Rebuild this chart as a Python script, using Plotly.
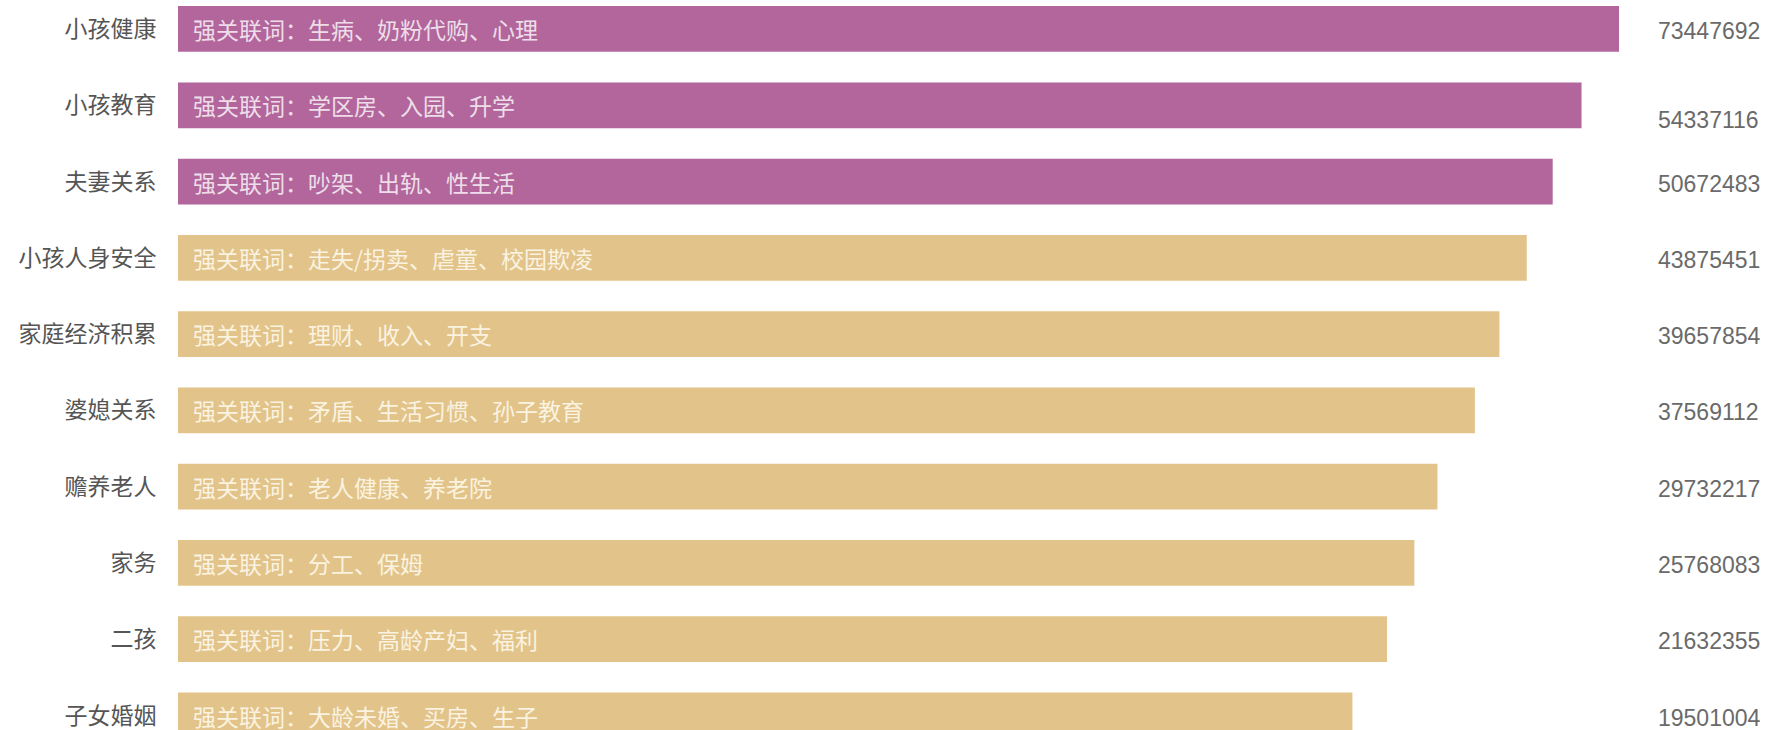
import plotly.graph_objects as go

# ---- data ----
categories = ["小孩健康", "小孩教育", "夫妻关系", "小孩人身安全", "家庭经济积累",
              "婆媳关系", "赡养老人", "家务", "二孩", "子女婚姻"]
keywords = ["强关联词：生病、奶粉代购、心理",
            "强关联词：学区房、入园、升学",
            "强关联词：吵架、出轨、性生活",
            "强关联词：走失/拐卖、虐童、校园欺凌",
            "强关联词：理财、收入、开支",
            "强关联词：矛盾、生活习惯、孙子教育",
            "强关联词：老人健康、养老院",
            "强关联词：分工、保姆",
            "强关联词：压力、高龄产妇、福利",
            "强关联词：大龄未婚、买房、生子"]
values = [73447692, 54337116, 50672483, 43875451, 39657854,
          37569112, 29732217, 25768083, 21632355, 19501004]
# relative displayed bar length (longest bar = 100)
bar_len = [100, 97.4, 95.4, 93.6, 91.7, 90.0, 87.4, 85.8, 83.9, 81.5]

PURPLE = "#B2669C"
TAN = "#E2C48A"
colors = [PURPLE if i < 3 else TAN for i in range(len(categories))]

fig = go.Figure()
fig.add_trace(go.Bar(
    x=bar_len, y=categories, orientation="h",
    marker=dict(color=colors, line=dict(width=0)),
    width=0.6, hoverinfo="skip", showlegend=False,
))

annotations = []
for i, (cat, kw, val) in enumerate(zip(categories, keywords, values)):
    annotations.append(dict(
        x=0, y=cat, xref="x", yref="y", text=kw, showarrow=False,
        xanchor="left", yanchor="middle", xshift=13, yshift=0,
        font=dict(family="Noto Sans CJK SC", size=23,
                  color="rgba(255,255,255,0.8)" if i < 3 else "rgba(255,250,238,0.88)"),
    ))
    annotations.append(dict(
        x=1.0257, y=cat, xref="paper", yref="y", text=str(val), showarrow=False,
        xanchor="left", yanchor="middle", yshift=(-15 if i == 1 else -2),
        font=dict(family="Liberation Sans", size=23, color="#6a6a6a"),
    ))

fig.update_layout(
    width=1771, height=730,
    margin=dict(l=178, r=152, t=0, b=0, pad=0),
    paper_bgcolor="white", plot_bgcolor="white",
    annotations=annotations,
    bargap=0.4,
)
fig.update_xaxes(range=[0, 100], visible=False, showgrid=False, zeroline=False)
fig.update_yaxes(
    type="category", range=[9.19, -0.38],
    showgrid=False, zeroline=False, showline=False,
    ticks="outside", ticklen=16, tickcolor="rgba(0,0,0,0)",
    tickfont=dict(family="Noto Sans CJK SC", size=23, color="#555555"),
)

fig.write_html("out.html",
               config={"displayModeBar": False},
               post_script="document.body.style.margin='0';document.body.style.overflow='hidden';")
